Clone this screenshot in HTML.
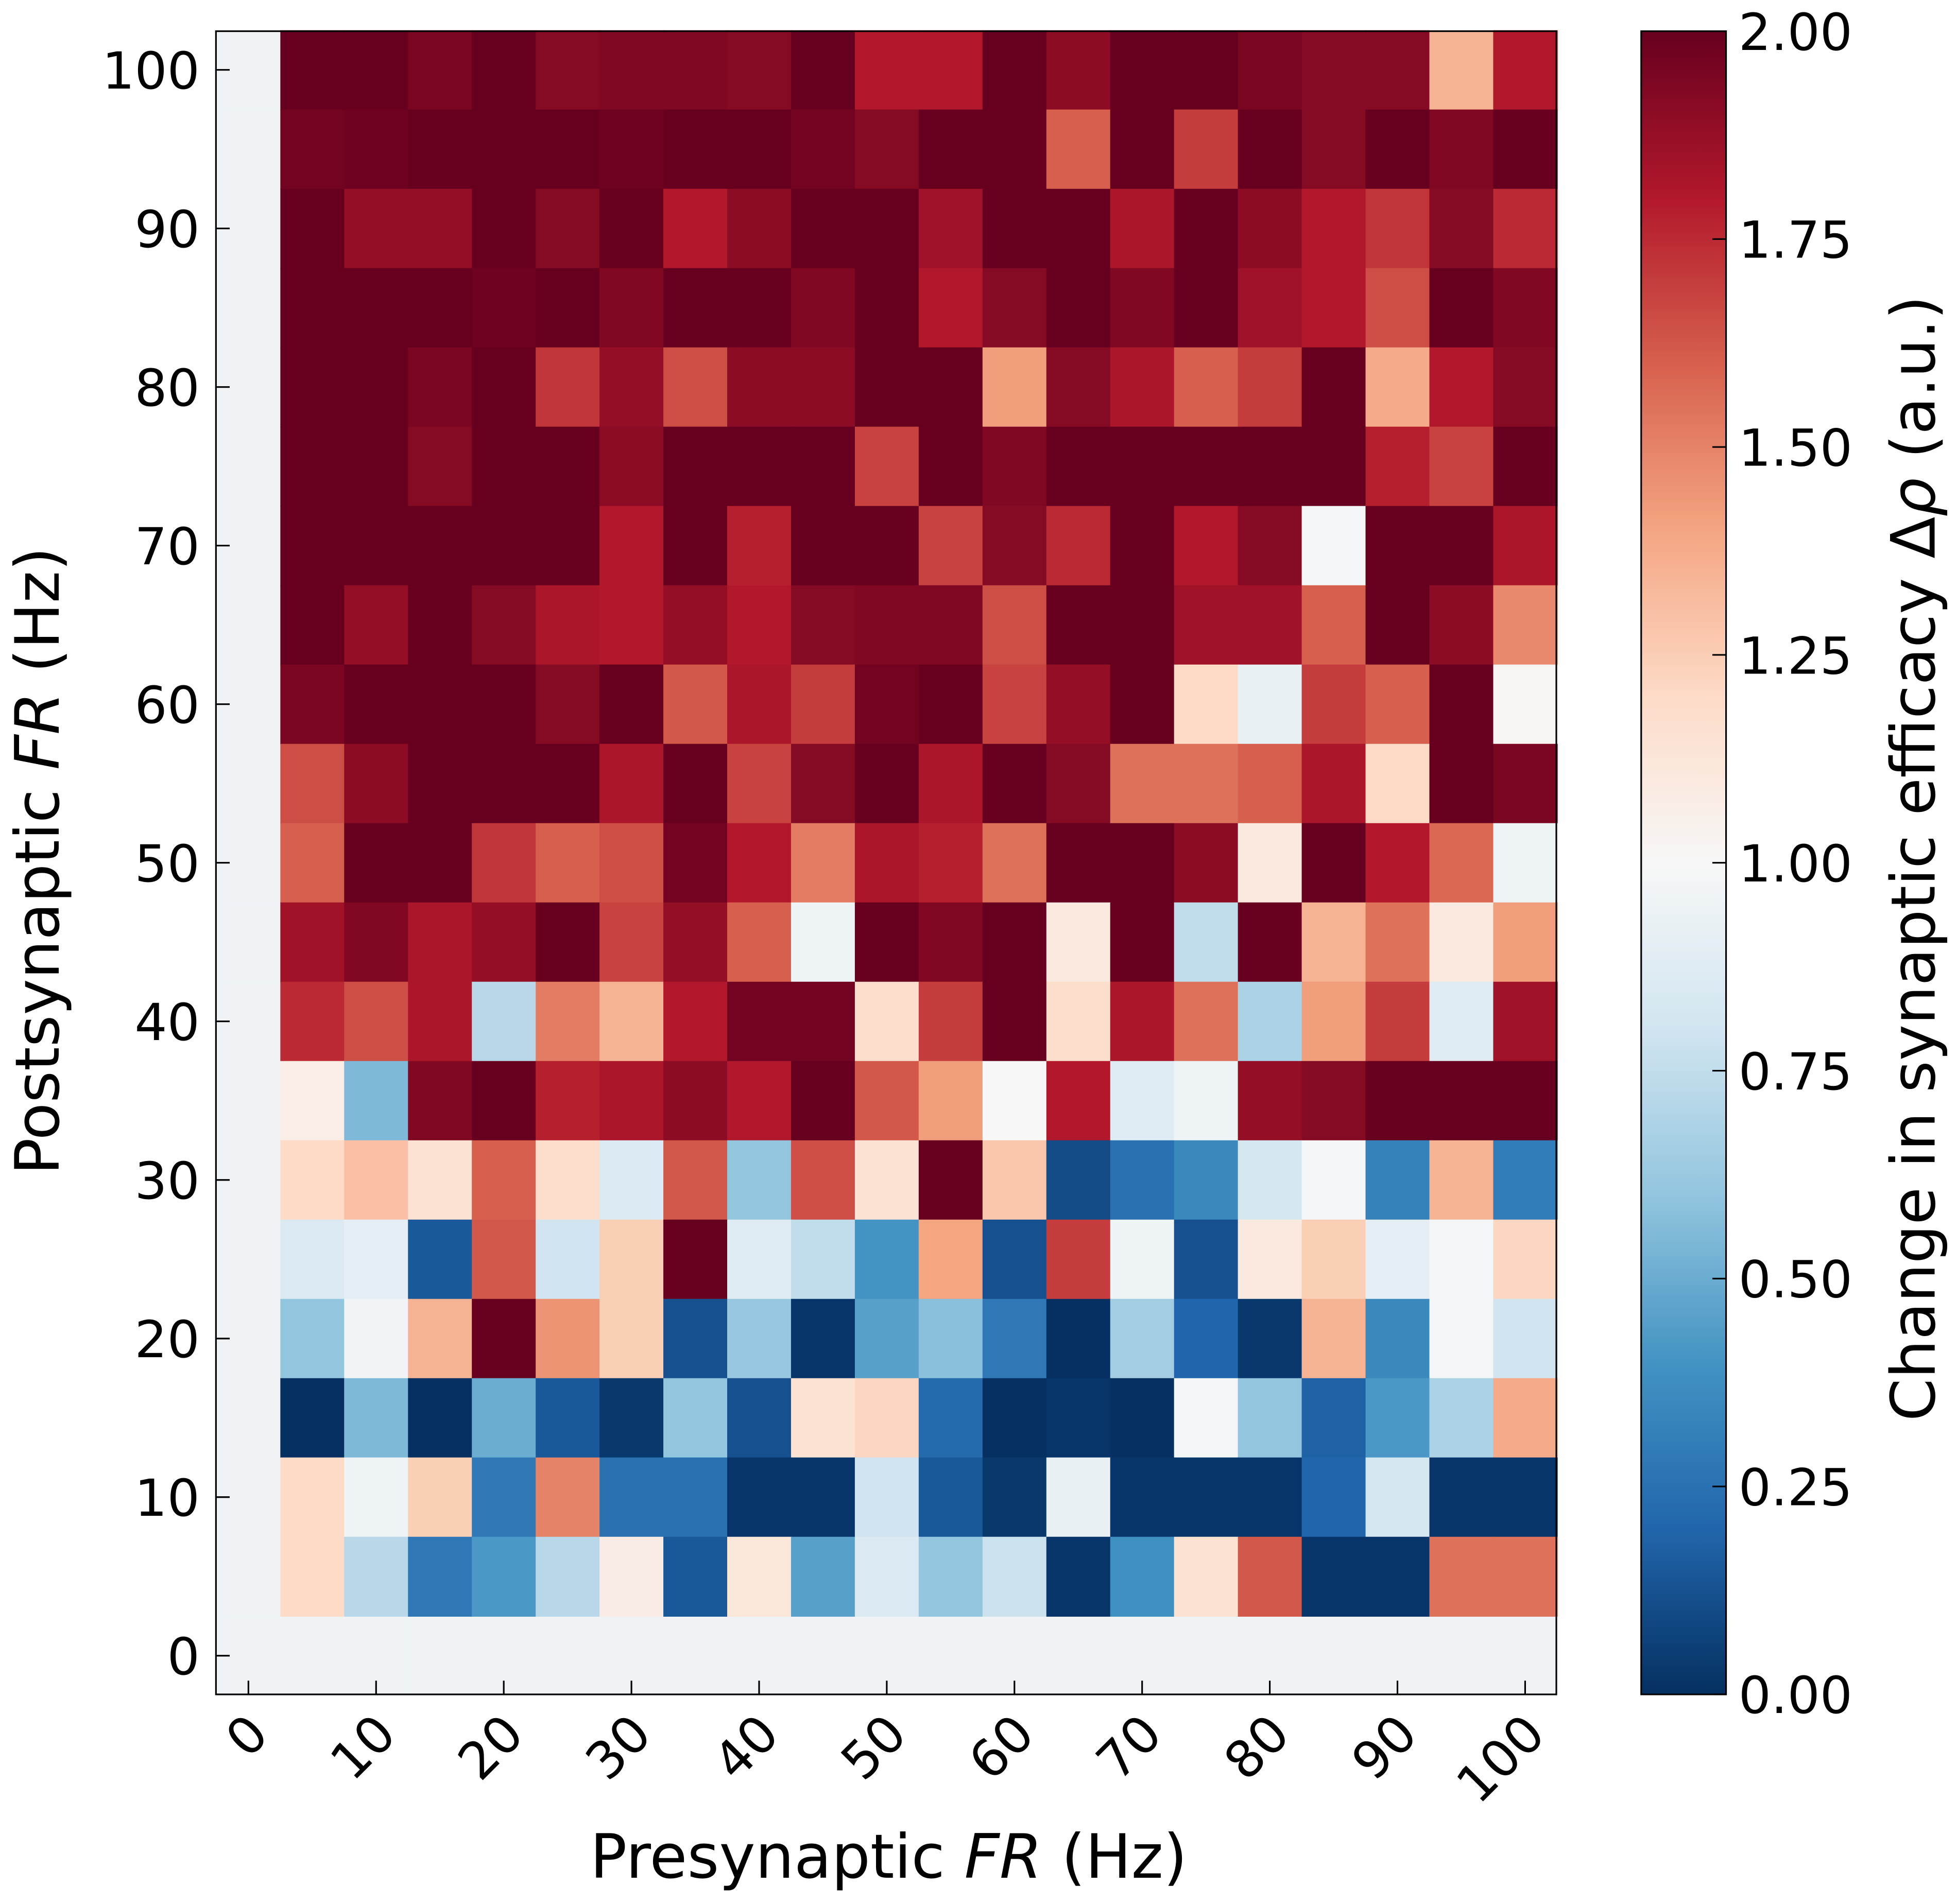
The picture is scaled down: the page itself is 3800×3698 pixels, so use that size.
<!DOCTYPE html>
<html><head><meta charset="utf-8"><style>
html,body{margin:0;padding:0;background:#fff}
svg{display:block}
text{font-family:"DejaVu Sans","Liberation Sans",sans-serif;fill:#000}
</style></head><body>
<svg id="chart" width="3800" height="3698" viewBox="0 0 1568 1526" xmlns="http://www.w3.org/2000/svg">
<defs>
<linearGradient id="cbgrad" x1="0" y1="1" x2="0" y2="0">
<stop offset="0" stop-color="#053061"/><stop offset="0.1" stop-color="#2166ac"/><stop offset="0.2" stop-color="#4393c3"/><stop offset="0.3" stop-color="#92c5de"/><stop offset="0.4" stop-color="#d1e5f0"/><stop offset="0.5" stop-color="#f7f7f7"/><stop offset="0.6" stop-color="#fddbc7"/><stop offset="0.7" stop-color="#f4a582"/><stop offset="0.8" stop-color="#d6604d"/><stop offset="0.9" stop-color="#b2182b"/><stop offset="1" stop-color="#67001f"/>
</linearGradient>
</defs>
<g id="cells"></g>
<rect x="173" y="25" width="1074" height="1333" fill="none" stroke="#000" stroke-width="1.3"/>
<g id="xticks"></g>
<g id="yticks"></g>
<text x="712" y="1505" font-size="49" text-anchor="middle">Presynaptic <tspan font-style="italic">FR</tspan> (Hz)</text>
<text transform="translate(47,690) rotate(-90)" font-size="49" text-anchor="middle">Postsynaptic <tspan font-style="italic">FR</tspan> (Hz)</text>
<rect x="1315" y="25" width="68" height="1333" fill="url(#cbgrad)" stroke="#000" stroke-width="1.3"/>
<g id="cbticks"></g>
<text transform="translate(1550,688) rotate(-90)" font-size="49" text-anchor="middle">Change in synaptic efficacy Δ<tspan font-style="italic">ρ</tspan> (a.u.)</text>
</svg>
<script>
const preRates=[5,10,15,20,25,30,35,40,45,50,55,60,65,70,75,80,85,90,95,100];
const postRates=[100,95,90,85,80,75,70,65,60,55,50,45,40,35,30,25,20,15,10,5];
const baselineValue=0.96;
const rowValues=[
[2,2,1.95,2,1.92,1.93,1.93,1.92,2,1.8,1.8,2,1.9,2,2,1.95,1.92,1.92,1.35,1.8],
[1.97,1.98,2,2,2,1.98,2,2,1.97,1.92,2,2,1.6,2,1.7,2,1.92,2,1.93,2],
[2,1.88,1.88,2,1.92,2,1.8,1.9,2,2,1.85,2,2,1.82,2,1.9,1.8,1.72,1.92,1.75],
[2,2,2,1.98,2,1.93,2,2,1.93,2,1.8,1.92,2,1.93,2,1.85,1.8,1.65,2,1.93],
[2,2,1.95,2,1.72,1.88,1.65,1.9,1.9,2,2,1.42,1.92,1.82,1.6,1.7,2,1.38,1.8,1.92],
[2,2,1.92,2,2,1.9,2,2,2,1.68,2,1.93,2,2,2,2,2,1.78,1.68,2],
[2,2,2,2,2,1.8,2,1.78,2,2,1.68,1.92,1.75,2,1.8,1.92,0.98,2,2,1.82],
[2,1.88,2,1.92,1.82,1.8,1.88,1.8,1.92,1.93,1.93,1.65,2,2,1.85,1.85,1.6,2,1.9,1.48],
[1.95,2,2,2,1.92,2,1.62,1.82,1.7,1.97,2,1.68,1.88,2,1.2,0.92,1.7,1.6,2,1.02],
[1.65,1.9,2,2,2,1.82,2,1.68,1.92,2,1.82,2,1.92,1.55,1.55,1.6,1.82,1.2,2,1.95],
[1.6,2,2,1.72,1.6,1.65,1.97,1.8,1.52,1.82,1.78,1.55,2,2,1.9,1.1,2,1.8,1.58,0.95],
[1.85,1.93,1.82,1.88,2,1.68,1.88,1.6,0.95,2,1.93,2,1.1,2,0.75,2,1.35,1.55,1.1,1.42],
[1.75,1.65,1.82,0.72,1.52,1.35,1.8,1.97,1.97,1.18,1.7,2,1.18,1.82,1.55,0.68,1.42,1.7,0.88,1.85],
[1.07,0.55,1.93,2,1.78,1.82,1.9,1.8,2,1.62,1.42,1.0,1.8,0.88,0.95,1.88,1.92,2,2,2],
[1.2,1.3,1.15,1.6,1.18,0.85,1.62,0.6,1.65,1.15,2,1.28,0.1,0.25,0.35,0.82,0.98,0.32,1.35,0.3],
[0.85,0.9,0.15,1.62,0.8,1.25,2,0.88,0.75,0.4,1.4,0.12,1.7,0.95,0.12,1.1,1.25,0.9,0.98,1.22],
[0.6,0.97,1.35,2,1.45,1.25,0.12,0.62,0.02,0.45,0.58,0.28,0.0,0.65,0.2,0.03,1.35,0.35,0.98,0.8],
[0.0,0.55,0.0,0.5,0.15,0.03,0.6,0.12,1.15,1.22,0.22,0.0,0.02,0.0,0.98,0.6,0.18,0.42,0.68,1.38],
[1.2,0.95,1.25,0.28,1.5,0.25,0.25,0.02,0.02,0.8,0.15,0.03,0.92,0.02,0.02,0.02,0.2,0.82,0.02,0.02],
[1.2,0.72,0.28,0.42,0.72,1.08,0.15,1.12,0.45,0.85,0.6,0.78,0.02,0.38,1.15,1.62,0.02,0.02,1.55,1.55]
];
const xTickLabels=[0,10,20,30,40,50,60,70,80,90,100];
const yTickLabels=[0,10,20,30,40,50,60,70,80,90,100];
const cbTickLabels=["0.00","0.25","0.50","0.75","1.00","1.25","1.50","1.75","2.00"];

const NS="http://www.w3.org/2000/svg";
function xS(v){return 199+v*(1222-199)/100;}
function yS(v){return 1327-v*(1327-56)/100;}
function cS(v){return 1358-v*(1358-25)/2;}
const stops=["#053061","#2166ac","#4393c3","#92c5de","#d1e5f0","#f7f7f7","#fddbc7","#f4a582","#d6604d","#b2182b","#67001f"];
function hex(h){return [1,3,5].map(i=>parseInt(h.substr(i,2),16));}
function cmap(v){let t=Math.max(0,Math.min(1,v/2))*10;let i=Math.min(9,Math.floor(t));let f=t-i;
 const a=hex(stops[i]),b=hex(stops[i+1]);return "rgb("+a.map((c,k)=>Math.round(c+(b[k]-c)*f)).join(",")+")";}
function mk(tag,attrs,parent){const e=document.createElementNS(NS,tag);for(const k in attrs)e.setAttribute(k,attrs[k]);parent.appendChild(e);return e;}
const cells=document.getElementById("cells");
function cell(pre,post,v){
 const x0=xS(pre-2.5),x1=xS(pre+2.5),y0=yS(post+2.5),y1=yS(post-2.5);
 const r=mk("rect",{x:x0,y:y0,width:x1-x0+0.5,height:y1-y0+0.5,fill:cmap(v)},cells);
 
 
}
for(let p=0;p<=100;p+=5){cell(p,0,baselineValue);}
postRates.forEach(post=>cell(0,post,baselineValue));
postRates.forEach((post,ri)=>preRates.forEach((pre,ci)=>cell(pre,post,rowValues[ri][ci])));

const xt=document.getElementById("xticks");
xTickLabels.forEach(v=>{const x=xS(v);
 const l=mk("line",{x1:x,x2:x,y1:1358,y2:1347,stroke:"#000","stroke-width":1.3},xt);
 
 
 const t=mk("text",{transform:"translate("+(x+18)+",1392) rotate(-45)","font-size":41,"text-anchor":"end"},xt);
 
 
 t.textContent=v;});
const yt=document.getElementById("yticks");
yTickLabels.forEach(v=>{const y=yS(v);
 const l=mk("line",{x1:173,x2:184,y1:y,y2:y,stroke:"#000","stroke-width":1.3},yt);
 
 
 const t=mk("text",{x:160,y:y+15,"font-size":41,"text-anchor":"end"},yt);
 
 
 t.textContent=v;});
const ct=document.getElementById("cbticks");
cbTickLabels.forEach(s=>{const y=cS(parseFloat(s));
 const l=mk("line",{x1:1372,x2:1383,y1:y,y2:y,stroke:"#000","stroke-width":1.3},ct);
 
 
 const t=mk("text",{x:1393,y:y+15,"font-size":41},ct);
 
 
 t.textContent=s;});
</script>
</body></html>
